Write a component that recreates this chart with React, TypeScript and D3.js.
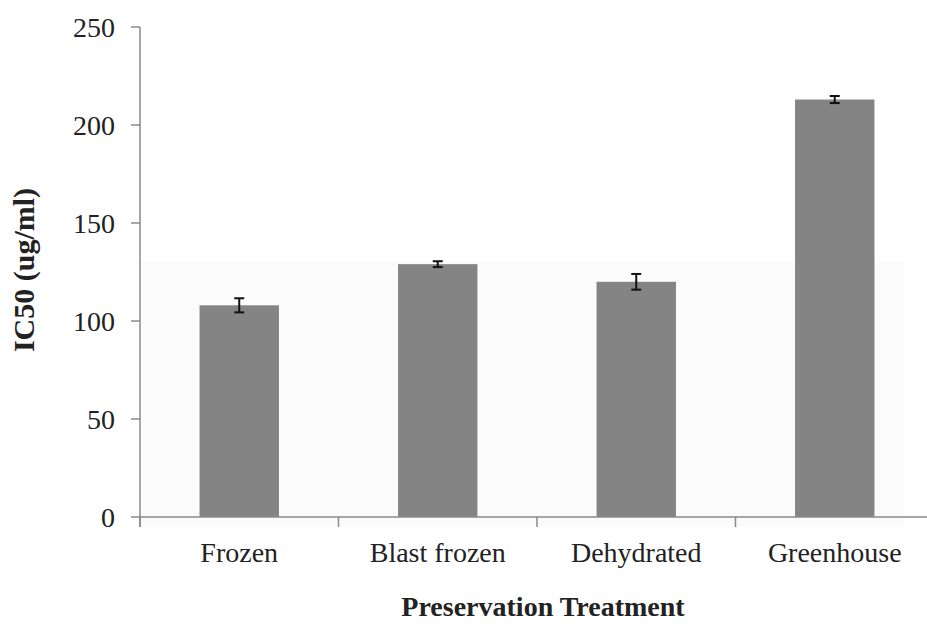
import React from "react";
import * as d3 from "d3";

const categories = ["Frozen", "Blast frozen", "Dehydrated", "Greenhouse"];
const ic50Values = [108, 129, 120, 213];
const ic50Errors = [3.6, 1.5, 4, 1.8];
const yTicks = [0, 50, 100, 150, 200, 250];

const W = 927;
const H = 625;
const left = 140;
const right = 934;
const top = 27;
const bottom = 517;

export default function App() {
  const x = d3
    .scaleBand<string>()
    .domain(categories)
    .range([left, right])
    .paddingInner(0.6)
    .paddingOuter(0.3);
  const y = d3.scaleLinear().domain([0, 250]).range([bottom, top]);
  const step = x.step();
  const font = "'Liberation Serif', 'Times New Roman', serif";
  const axisColor = "#8a8a8a";

  return (
    <svg
      width={W}
      height={H}
      style={{ position: "absolute", left: 0, top: 0, background: "#fff" }}
    >
      {/* faint shading in the lower plot region */}
      <rect x={left} y={262} width={905 - left} height={526 - 262} fill="#fbfbfb" />

      {/* bars */}
      {categories.map((c, i) => (
        <rect
          key={c}
          x={x(c)}
          y={y(ic50Values[i])}
          width={x.bandwidth()}
          height={y(0) - y(ic50Values[i])}
          fill="#848484"
        />
      ))}

      {/* error bars */}
      {categories.map((c, i) => {
        const cx = (x(c) as number) + x.bandwidth() / 2;
        const y1 = y(ic50Values[i] + ic50Errors[i]);
        const y2 = y(ic50Values[i] - ic50Errors[i]);
        return (
          <g key={c} stroke="#111" strokeWidth={2}>
            <line x1={cx} x2={cx} y1={y1} y2={y2} />
            <line x1={cx - 5} x2={cx + 5} y1={y1} y2={y1} />
            <line x1={cx - 5} x2={cx + 5} y1={y2} y2={y2} />
          </g>
        );
      })}

      {/* y axis */}
      <line x1={left} x2={left} y1={y(250)} y2={bottom + 10} stroke={axisColor} strokeWidth={1.5} />
      {yTicks.map((t) => (
        <g key={t}>
          <line x1={left - 9} x2={left} y1={y(t)} y2={y(t)} stroke={axisColor} strokeWidth={1.5} />
          <text
            x={115}
            y={y(t)}
            dy="0.35em"
            textAnchor="end"
            fontFamily={font}
            fontSize={28}
            fill="#222"
          >
            {t}
          </text>
        </g>
      ))}

      {/* x axis */}
      <line x1={left} x2={right} y1={bottom} y2={bottom} stroke={axisColor} strokeWidth={1.5} />
      {d3.range(categories.length + 1).map((i) => (
        <line
          key={i}
          x1={left + i * step}
          x2={left + i * step}
          y1={bottom}
          y2={bottom + 10}
          stroke={axisColor}
          strokeWidth={1.5}
        />
      ))}
      {categories.map((c) => (
        <text
          key={c}
          x={(x(c) as number) + x.bandwidth() / 2}
          y={562}
          textAnchor="middle"
          fontFamily={font}
          fontSize={28}
          fill="#222"
        >
          {c}
        </text>
      ))}

      {/* axis titles */}
      <text
        x={543}
        y={616}
        textAnchor="middle"
        fontFamily={font}
        fontSize={28}
        fontWeight="bold"
        fill="#222"
      >
        Preservation Treatment
      </text>
      <text
        transform={`translate(34, 270) rotate(-90)`}
        textAnchor="middle"
        fontFamily={font}
        fontSize={30}
        fontWeight="bold"
        fill="#222"
      >
        IC50 (ug/ml)
      </text>
    </svg>
  );
}
